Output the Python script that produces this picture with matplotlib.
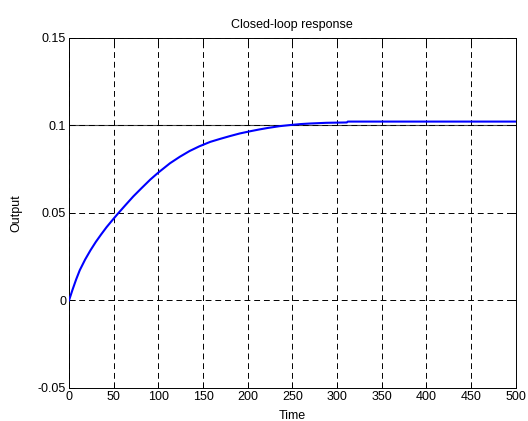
import matplotlib
matplotlib.use('Agg')
import matplotlib.pyplot as plt
import numpy as np

plt.rcParams['font.family'] = ['Liberation Sans', 'DejaVu Sans']

# closed-loop output
t = [0, 4, 8, 12, 18, 24, 30, 36, 42, 48, 55, 63, 72, 81, 91, 100, 113, 124, 135,
     146, 158, 169, 180, 191, 203, 213, 223, 236, 249, 260, 270, 288, 311, 312, 500]
y = [0, 0.0062, 0.0120, 0.0172, 0.0233, 0.0286, 0.0334, 0.0377, 0.0418, 0.0455,
     0.0497, 0.0543, 0.0594, 0.064, 0.069, 0.073, 0.0783, 0.082, 0.0853, 0.088,
     0.0905, 0.0922, 0.0938, 0.0953, 0.0966, 0.0976, 0.0985, 0.0995, 0.1002,
     0.1007, 0.101, 0.1014, 0.1016, 0.1021, 0.1021]
setpoint = 0.1
xticks = [0, 50, 100, 150, 200, 250, 300, 350, 400, 450, 500]
yticks = [-0.05, 0, 0.05, 0.1, 0.15]
yticklabels = ['-0.05', '0', '0.05', '0.1', '0.15']

fig = plt.figure(figsize=(5.28, 4.21), dpi=100)
ax = fig.add_axes([0.1307, 0.0784, 0.846, 0.8321])

ax.axhline(setpoint, color='#444444', lw=0.8, zorder=1)
ax.plot(t, y, color='#0000ff', lw=1.5, zorder=3)

ax.set_xlim(0, 500)
ax.set_ylim(-0.05, 0.15)
ax.set_xticks(xticks)
ax.set_yticks(yticks)
ax.set_yticklabels(yticklabels)
ax.grid(True, color='black', lw=0.7, dashes=(6, 4), zorder=2)
ax.tick_params(direction='in', top=True, right=True, labelsize=9, length=4, width=0.7, pad=2)
for s in ax.spines.values():
    s.set_linewidth(0.7)

ax.set_title('Closed-loop response', fontsize=9, pad=7)
ax.set_xlabel('Time', fontsize=9, labelpad=5)
ax.set_ylabel('Output', fontsize=9, labelpad=11)

fig.savefig('out.png', dpi=100)
